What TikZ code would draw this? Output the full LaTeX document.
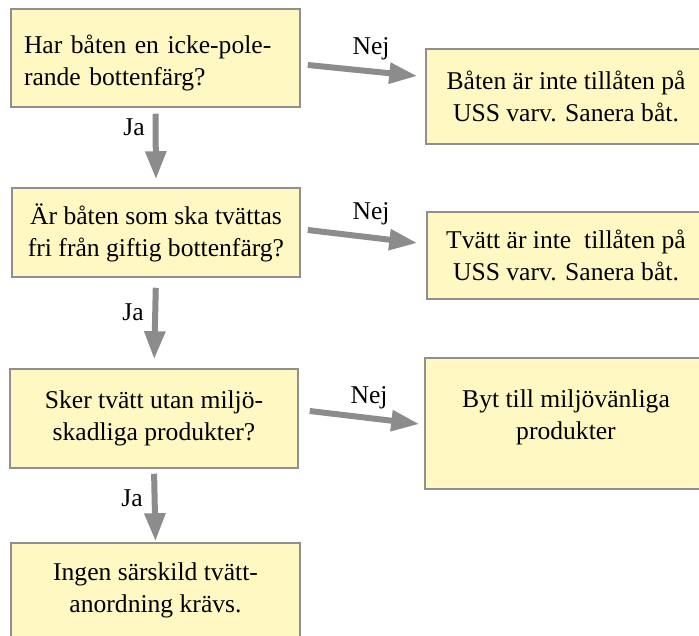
\documentclass[tikz,border=0pt]{standalone}
\usepackage{fontspec}
\setmainfont{Liberation Serif}
\usetikzlibrary{arrows.meta,calc}
\definecolor{boxfill}{HTML}{FFF8C2}
\definecolor{boxline}{HTML}{8F8F8F}
\definecolor{arrowgray}{HTML}{8C8C8C}
\begin{document}
\begin{tikzpicture}[x=1pt,y=-1pt,
  box/.style={draw=boxline, line width=1.5pt, fill=boxfill, inner sep=0pt,
    font=\fontsize{25.6}{32}\selectfont, align=center},
  flow/.style={draw=arrowgray, line width=6pt, -{Triangle[length=28pt,width=20pt]}},
  lab/.style={font=\fontsize{25.6}{32}\selectfont, inner sep=0pt}]
\useasboundingbox (0,0) rectangle (699,636);
% left column
\node[box, align=left, text width=263pt, inner xsep=13pt, minimum height=98pt, text height=29pt] (b1) at (155.5,58)
  {Har båten en icke-pole-\\rande bottenfärg?};
\node[box, minimum width=288pt, minimum height=89pt] (b2) at (156,232.5)
  {Är båten som ska tvättas\\fri från giftig bottenfärg?};
\node[box, minimum width=288pt, minimum height=99pt] (b3) at (154,418.5)
  {Sker tvätt utan miljö-\\skadliga produkter?};
\node[box, minimum width=289pt, minimum height=95pt] (b4) at (155.5,590.5)
  {Ingen särskild tvätt-\\anordning krävs.};
% right column
\node[box, minimum width=280pt, minimum height=95pt] (r1) at (566,96.5)
  {Båten är inte tillåten på\\USS varv. Sanera båt.};
\node[box, minimum width=278pt, minimum height=87pt] (r2) at (566,255.5)
  {Tvätt är inte\ \ tillåten på\\USS varv. Sanera båt.};
\node[box, minimum width=282pt, minimum height=131pt, text depth=17pt] (r3) at (566,423.5)
  {Byt till miljövänliga\\produkter};
% yes arrows
\draw[flow, shorten <=6pt, shorten >=8pt] (b1.south) -- (b2.north);
\draw[flow, shorten <=10pt, shorten >=9pt] (b2.south) -- (b3.north);
\draw[flow, shorten <=5pt, shorten >=1pt] (b3.south) -- (b4.north);
% no arrows
\draw[flow] ($(b1.east)+(7,7)$) -- ($(r1.west)+(-8,-20.5)$);
\draw[flow] ($(b2.east)+(7,-2.5)$) -- ($(r2.west)+(-9,-12.5)$);
\draw[flow] ($(b3.east)+(11,-7.5)$) -- ($(r3.west)+(-5,0.5)$);
% labels
\node[lab] (ja1) at (134,127) {Ja};
\node[lab] (ja2) at (133,312) {Ja};
\node[lab] (ja3) at (132,498) {Ja};
\node[lab] (nej1) at (371,49) {Nej};
\node[lab] (nej2) at (371,214) {Nej};
\node[lab] (nej3) at (369,398) {Nej};
\end{tikzpicture}
\end{document}
